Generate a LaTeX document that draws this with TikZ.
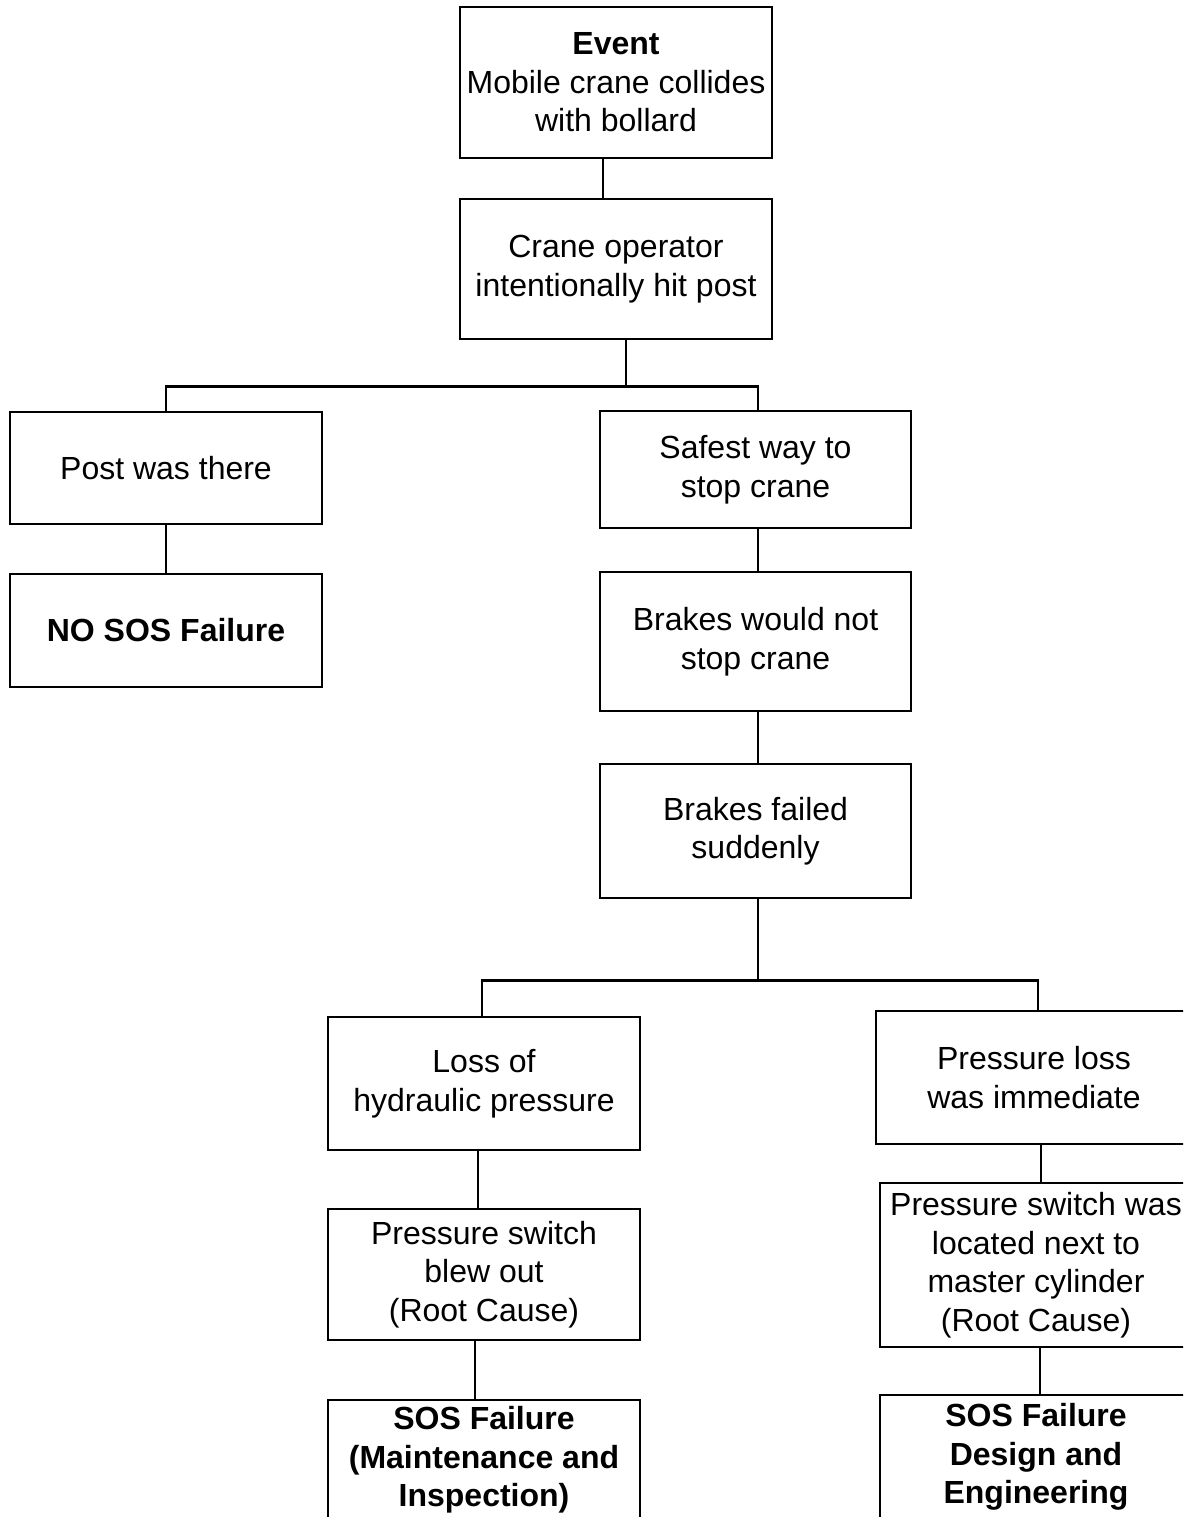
\documentclass[tikz,border=0pt]{standalone}
\usepackage{fontspec}
\setmainfont{Liberation Sans}
\begin{document}
\begin{tikzpicture}[x=1pt,y=-1pt,
  box/.style={draw=black,line width=2.5pt,align=center,inner sep=0pt,
    font=\fontsize{32}{38.5}\selectfont,minimum width=312pt},
  link/.style={draw=black,line width=2.5pt}]
\useasboundingbox (0,0) rectangle (1183,1517);
\clip (0,0) rectangle (1183,1517);
\fill[white] (0,0) rectangle (1183,1517);
\node[box,minimum height=151pt] (ev) at (616,82.5) {\textbf{Event}\\Mobile crane collides\\with bollard};
\node[box,minimum height=140pt] (op) at (616,269) {Crane operator\\intentionally hit post};
\node[box,minimum height=112pt] (post) at (166,468) {Post was there};
\node[box,minimum height=113pt] (nosos) at (166,630.5) {\textbf{NO SOS Failure}};
\node[box,minimum height=117pt,minimum width=311pt] (safe) at (755.5,469.5) {Safest way to\\stop crane};
\node[box,minimum height=139pt,minimum width=311pt] (brk) at (755.5,641.5) {Brakes would not\\stop crane};
\node[box,minimum height=134pt,minimum width=311pt] (bf) at (755.5,831) {Brakes failed\\suddenly};
\node[box,minimum height=133pt] (loss) at (484,1083.5) {Loss of\\hydraulic pressure};
\node[box,minimum height=131pt] (psw) at (484,1274.5) {Pressure switch\\blew out\\(Root Cause)};
\node[box,minimum height=120pt] (sosm) at (484,1460) {\textbf{SOS Failure}\\\textbf{(Maintenance and}\\\textbf{Inspection)}};
\node[box,minimum height=133pt,minimum width=316pt] (pli) at (1034,1077.5) {Pressure loss\\was immediate};
\node[box,minimum height=164pt] (psl) at (1036,1265) {Pressure switch was\\located next to\\master cylinder\\(Root Cause)};
\node[box,minimum height=124pt] (sosd) at (1036,1457) {\textbf{SOS Failure}\\\textbf{Design and}\\\textbf{Engineering}};
% connectors
\draw[link] ([xshift=-13pt]ev.south) -- ([xshift=-13pt]op.north);
\coordinate (j1) at ([xshift=10pt,yshift=-46pt]op.south);
\draw[link] ([xshift=10pt]op.south) -- (j1);
\draw[link] (j1) -| (post.north);
\draw[link] (j1) -| ([xshift=2.5pt]safe.north);
\draw[link] (post.south) -- (nosos.north);
\draw[link] ([xshift=2.5pt]safe.south) -- ([xshift=2.5pt]brk.north);
\draw[link] ([xshift=2.5pt]brk.south) -- ([xshift=2.5pt]bf.north);
\coordinate (j2) at ([xshift=2.5pt,yshift=-81pt]bf.south);
\draw[link] ([xshift=2.5pt]bf.south) -- (j2);
\draw[link] (j2) -| ([xshift=-2pt]loss.north);
\draw[link] (j2) -| ([xshift=4pt]pli.north);
\draw[link] ([xshift=-6pt]loss.south) -- ([xshift=-6pt]psw.north);
\draw[link] ([xshift=-9pt]psw.south) -- ([xshift=-9pt]sosm.north);
\draw[link] ([xshift=7pt]pli.south) -- ([xshift=5pt]psl.north);
\draw[link] ([xshift=4pt]psl.south) -- ([xshift=4pt]sosd.north);
\end{tikzpicture}
\end{document}
